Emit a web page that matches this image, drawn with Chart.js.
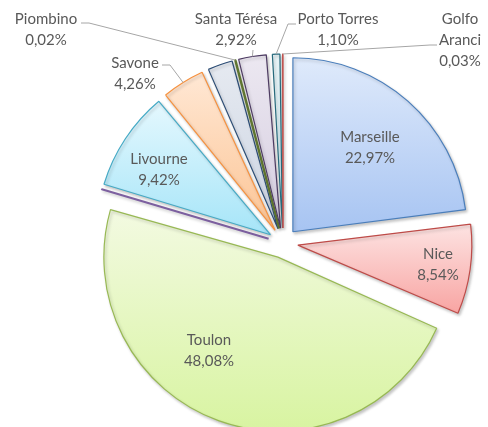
<!DOCTYPE html>
<html>
<head>
<meta charset="utf-8">
<script src="https://cdn.jsdelivr.net/npm/chart.js@4"></script>
<style>
  html, body { margin: 0; padding: 0; background: #fff; }
</style>
</head>
<body>
<canvas id="pie" width="488" height="427"></canvas>
<script>
// Ports, clockwise from 12 o'clock. Two slices carry no label in the source.
const ports = ['Marseille', 'Nice', 'Toulon', '', 'Livourne', 'Savone', '', 'Piombino', 'Santa Térésa', 'Porto Torres', 'Golfo Aranci'];
const shares = [22.97, 8.54, 48.08, 0.001, 9.42, 4.26, 2.66, 0.02, 2.92, 1.10, 0.03];
const showLabel = [true, true, true, false, true, true, false, true, true, true, true];

// look
const borderColors = ['#4a7ebb', '#be4b48', '#98b954', '#7d60a0', '#46aac5', '#f69240', '#2c4d75', '#5f7530', '#4d3b62', '#276a7c', '#c0504d'];
const borderWidths = [1.2, 1.2, 1.2, 2.2, 1.2, 1.2, 1.2, 2.4, 1.2, 1.2, 1.6];
const fillTop    = ['#dfeafb', '#fde4e3', '#f3fae2', '#e2dbee', '#e5f8fe', '#ffe8d5', '#e6eaf1', '#e6edd2', '#ece8f1', '#e8f4f7', '#f2dcdb'];
const fillBottom = ['#a7c4f2', '#f8a4a2', '#d8f4a1', '#c1b1d8', '#a6e5f8', '#fcc494', '#ccd4e2', '#c5d59b', '#d5cde0', '#c8e5ed', '#e6b9b8'];

const RADIUS = 174;
const EXPLODE = 15;   // px every slice is pulled out

// label text anchors [x, y of first line]; leader = polyline start points (end is on the slice)
const labelPos = [
  { x: 370, y: 137 },
  { x: 438, y: 254 },
  { x: 209, y: 340 },
  null,
  { x: 159, y: 159 },
  { x: 135, y: 63, lead: [[162, 65], [170, 65]] },
  null,
  { x: 46, y: 19, lead: [[81, 23], [89, 23]] },
  { x: 236, y: 19, lead: [[253, 50]] },
  { x: 338, y: 19, lead: [[296, 24], [288, 24]] },
  { x: 460, y: 19, lines: ['Golfo', 'Aranci'], lead: [[437, 45], [430, 45]] },
];

const total = shares.reduce((a, b) => a + b, 0);
const fmtPct = v => (v / total * 100).toFixed(2).replace('.', ',') + '%';

function sliceAngles(i) {
  let before = 0;
  for (let k = 0; k < i; k++) before += shares[k];
  const a0 = -Math.PI / 2 + 2 * Math.PI * before / total;
  const a1 = a0 + 2 * Math.PI * shares[i] / total;
  return [a0, a1];
}

function sliceFill(ctx) {
  const chart = ctx.chart;
  const area = chart.chartArea;
  const i = ctx.dataIndex;
  if (!area || i === undefined) return fillBottom[i] || '#ccc';
  const cy = (area.top + area.bottom) / 2;
  const [a0, a1] = sliceAngles(i);
  let ymin = cy, ymax = cy;
  for (let s = 0; s <= 40; s++) {
    const y = cy + RADIUS * Math.sin(a0 + (a1 - a0) * s / 40);
    ymin = Math.min(ymin, y);
    ymax = Math.max(ymax, y);
  }
  if (ymax - ymin < 1) ymax = ymin + 1;
  const g = chart.ctx.createLinearGradient(0, ymin, 0, ymax);
  g.addColorStop(0, fillTop[i]);
  g.addColorStop(1, fillBottom[i]);
  return g;
}

// keep every slice at the same radius (Chart.js grows narrow exploded arcs)
const sliceLook = {
  id: 'sliceLook',
  beforeDatasetsDraw(chart) {
    const meta = chart.getDatasetMeta(0);
    const R = meta.controller.outerRadius;
    meta.data.forEach(arc => {
      const fix = 1 - Math.sin(Math.min(Math.PI, arc.circumference));
      arc.outerRadius = R - EXPLODE * fix;
    });
    const c = chart.ctx;
    c.save();
    c.shadowColor = 'rgba(0,0,0,0.22)';
    c.shadowBlur = 3;
    c.shadowOffsetX = 1.5;
    c.shadowOffsetY = 2;
  },
  afterDatasetsDraw(chart) {
    chart.ctx.restore();
  }
};

const sliceLabels = {
  id: 'sliceLabels',
  afterDatasetsDraw(chart) {
    const c = chart.ctx;
    const meta = chart.getDatasetMeta(0);
    const R = meta.controller.outerRadius;
    c.save();
    meta.data.forEach((arc, i) => {
      const pos = labelPos[i];
      if (!showLabel[i] || !pos) return;
      const mid = (arc.startAngle + arc.endAngle) / 2;
      if (pos.lead) {
        const ex = arc.x + Math.cos(mid) * (EXPLODE + R);
        const ey = arc.y + Math.sin(mid) * (EXPLODE + R);
        c.strokeStyle = '#a6a6a6';
        c.lineWidth = 1;
        c.beginPath();
        pos.lead.forEach((p, k) => k ? c.lineTo(p[0], p[1]) : c.moveTo(p[0], p[1]));
        c.lineTo(ex, ey);
        c.stroke();
      }
      const lines = (pos.lines || [ports[i]]).concat([fmtPct(shares[i])]);
      c.fillStyle = '#595959';
      c.font = '15px Lato';
      c.textAlign = 'center';
      c.textBaseline = 'middle';
      lines.forEach((t, k) => c.fillText(t, pos.x, pos.y + k * 21));
    });
    c.restore();
  }
};

new Chart(document.getElementById('pie'), {
  type: 'pie',
  data: {
    labels: ports,
    datasets: [{
      data: shares,
      backgroundColor: sliceFill,
      borderColor: borderColors,
      borderWidth: borderWidths,
      offset: EXPLODE * 4,
      radius: RADIUS,
    }]
  },
  options: {
    responsive: false,
    animation: false,
    events: [],
    layout: { padding: { left: 78, top: 59, right: 0, bottom: 0 } },
    plugins: { legend: { display: false }, tooltip: { enabled: false } }
  },
  plugins: [sliceLook, sliceLabels]
});
</script>
</body>
</html>
